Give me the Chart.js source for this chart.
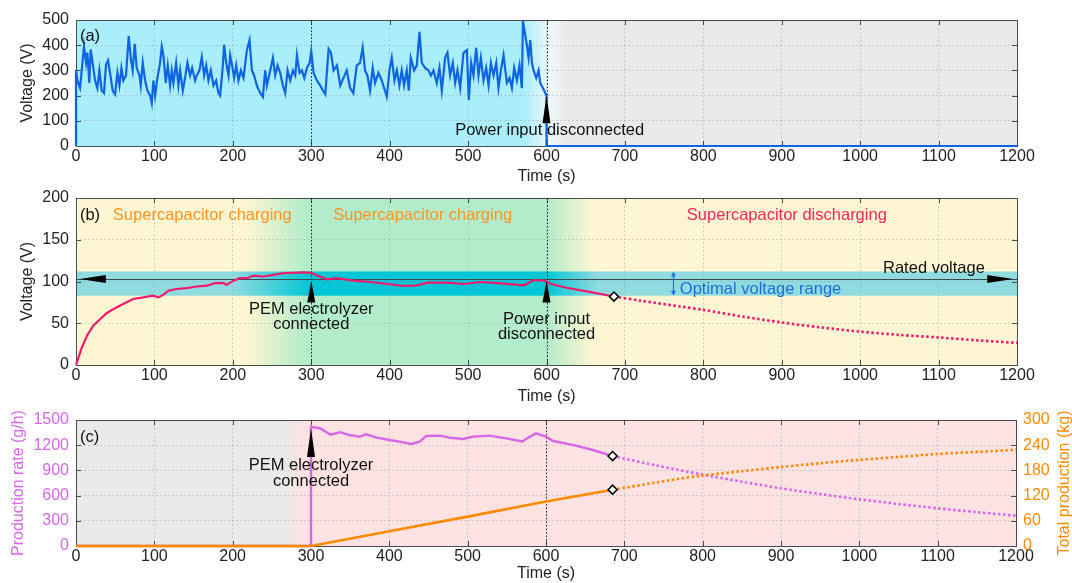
<!DOCTYPE html>
<html>
<head>
<meta charset="utf-8">
<script src="https://cdn.jsdelivr.net/npm/chart.js@4.4.1/dist/chart.umd.min.js"></script>
<style>
  body { margin: 0; background: #fff; width: 1072px; height: 583px; overflow: hidden; position: relative; }
  .panel { position: absolute; left: 0; width: 1072px; }
</style>
</head>
<body>
<div class="panel" style="top:0;height:186px"><canvas id="chartA"></canvas></div>
<div class="panel" style="top:176px;height:230px"><canvas id="chartB"></canvas></div>
<div class="panel" style="top:400px;height:183px"><canvas id="chartC"></canvas></div>
<script>
// ---- data ----
// (a) input voltage
const timeA = [0, 0, 1.7, 5.1, 7.2, 10.2, 12.8, 14.5, 17, 18.7, 22.1, 24.3, 27.2, 29.8, 32.8, 35.7, 38.3, 40.9, 43.4, 46.8,
  49.8, 52.8, 55.3, 57.9, 60.4, 63.8, 67.2, 70.2, 72.3, 74.9, 77.4, 80.9, 82.6, 85.1, 88.1, 91.1, 94.5, 96.6, 98.7,
  100.9, 103.8, 107.2, 109.4, 111.5, 114.5, 117, 120, 122.1, 124.3, 127.7, 130.6, 132.8, 136.2, 139.1, 142.1, 145.5,
  148.1, 151.9, 154, 157.4, 160.4, 163.4, 166, 168.9, 171.9, 175.3, 178.7, 181.7, 183.8, 186.8, 188.9, 191.5, 194.5,
  196.6, 199.1, 201.7, 204.3, 207.2, 210.2, 213.6, 217.9, 221.3, 224.3, 227.2, 230.6, 234.9, 238.3, 241.3, 243.4,
  247.7, 251.1, 254, 257, 260.4, 263.8, 266.8, 269.8, 273.2, 276.6, 279.6, 281.7, 285.1, 288.1, 291.1, 294.5, 297.9,
  300, 303, 307.2, 311.5, 314.9, 317.9, 322.1, 325.1, 328.5, 332.8, 337, 345.2, 349.5, 353.7, 358, 362.2, 365.6,
  368.6, 371.6, 375, 378.4, 381.4, 385.6, 389.9, 392.9, 396.3, 399.7, 402.7, 406.1, 409.1, 412.4, 415.4, 418.4, 421.8,
  424.4, 426.9, 431.2, 434.6, 438, 441, 445.2, 449.5, 452.5, 455.9, 460.1, 463.5, 466.5, 470.7, 473.7, 477.1, 480.5,
  483.5, 486.5, 489.9, 494.1, 498.4, 500.9, 503.9, 506.9, 510.3, 513.3, 516.3, 519.7, 523.1, 526.1, 529.1, 532.5,
  535.9, 538.8, 541.8, 545.2, 549.5, 552.9, 555.9, 558.8, 562.2, 565.6, 568.6, 569.9, 572.9, 575, 577.1, 579.3, 581.4,
  583.5, 586.9, 589.9, 592, 595.4, 598.4, 600, 600, 1200];
const voltA = [0, 303, 260, 230, 296, 396, 330, 370, 250, 383, 310, 260, 230, 300, 220, 210, 323, 340, 290, 220,
  205, 290, 240, 310, 260, 280, 436, 340, 300, 405, 310, 280, 240, 330, 260, 220, 200, 170, 260,
  200, 270, 330, 395, 360, 250, 320, 240, 300, 250, 330, 240, 300, 220, 270, 330, 280,
  310, 260, 280, 300, 353, 280, 320, 260, 300, 240, 260, 210, 200, 300, 402, 330, 280,
  360, 320, 270, 320, 260, 300, 270, 380, 420, 300, 280, 240, 210, 195, 300, 240,
  300, 350, 280, 320, 290, 240, 210, 300, 260, 300, 280, 360, 290, 300, 270, 310, 330,
  376, 290, 260, 240, 220, 205, 385, 370, 300, 320, 240, 300, 230, 210, 320, 330, 390,
  300, 280, 220, 310, 250, 290, 260, 230, 196, 300, 350, 260, 300, 240, 300, 240, 300,
  220, 350, 300, 320, 453, 330, 310, 300, 280, 300, 250, 310, 220, 350, 370, 280, 330,
  250, 300, 230, 370, 380, 183, 330, 280, 390, 280, 350, 260, 310, 240, 330, 280,
  330, 230, 300, 360, 250, 270, 230, 310, 260, 320, 230, 496, 440, 400, 350, 420, 330,
  300, 270, 300, 250, 230, 210, 200, 0, 0];

// (b) supercapacitor voltage, measured part and projection
const timeB = [0, 7, 14, 22, 31, 39, 48, 60, 73, 86, 98, 105, 111, 118, 128, 141, 154, 167, 177, 188, 192, 201, 209,
  218, 226, 239, 252, 265, 277, 290, 300, 305, 320, 333, 354, 376, 397, 418, 435, 448, 474, 495, 516, 542, 571,
  584, 597, 606, 627, 653, 686];
const voltB = [0, 20, 35, 47, 55, 62, 67, 73, 79, 81, 83, 81, 84, 89, 91, 92, 94, 95, 98, 98, 96, 101, 104,
  104, 107, 106, 108, 110, 110.5, 111, 110.5, 108, 102.6, 104, 101, 99.4, 97, 94.6, 95.4, 98.6, 98.6, 97, 99.4, 97.8, 95.4,
  101.8, 101, 97, 92.2, 87.8, 82];
const timeBDot = [686, 720, 771, 800, 850, 900, 950, 1000, 1050, 1100, 1150, 1200];
const voltBDot = [82, 77, 70, 66, 58, 51, 45, 40, 36, 33, 29.5, 26.5];
const ratedVoltage = 103;
const optimalRange = [83, 112];

// (c) hydrogen production rate (g/h) and total production (kg)
const timeRate = [0, 300, 300, 312, 325, 337, 349, 362, 370, 383, 400, 413, 428, 439, 447, 464, 477, 494, 507, 528,
  549, 570, 574, 587, 600, 609, 634, 660, 685];
const rate = [0, 0, 1420, 1400, 1325, 1355, 1321, 1300, 1329, 1294, 1262, 1242, 1214, 1242, 1310, 1314, 1290, 1274,
  1302, 1314, 1282, 1245, 1270, 1341, 1302, 1250, 1203, 1143, 1071];
const timeRateDot = [685, 740, 796, 850, 900, 950, 1000, 1050, 1100, 1150, 1200];
const rateDot = [1071, 960, 857, 765, 687, 618, 556, 500, 449, 403, 361];
const timeTotal = [0, 300, 400, 500, 600, 685];
const total = [0, 0, 35, 70, 106, 134];
const timeTotalDot = [685, 740, 796, 850, 900, 950, 1000, 1050, 1100, 1150, 1200];
const totalDot = [134, 151, 167, 178, 188, 197, 205, 212, 219, 224, 229];

const FONT = '"Liberation Sans", Arial, sans-serif';
Chart.defaults.font.family = FONT;
Chart.defaults.font.size = 16;
Chart.defaults.color = '#222';

const gridColor = 'rgba(150,150,150,0.38)';
const pts = (xs, ys) => xs.map((x, i) => ({ x: x, y: ys[i] }));
const plain = v => String(v);

function xAxis(height) {
  return {
    type: 'linear', min: 0, max: 1200,
    ticks: { stepSize: 100, padding: 1, maxRotation: 0, autoSkip: false, callback: plain },
    grid: { color: gridColor, drawTicks: false },
    border: { display: false, dash: [2, 2] },
    title: { display: true, text: 'Time (s)', padding: { top: 0, bottom: 0 } },
    afterFit: s => { s.height = height; }
  };
}

function yAxis(o) {
  return {
    position: o.pos || 'left', min: o.min, max: o.max,
    ticks: { stepSize: o.step, padding: 7, color: o.color || '#222', callback: plain },
    grid: { color: gridColor, drawTicks: false, drawOnChartArea: o.grid !== false },
    border: { display: false, dash: [2, 2] },
    title: { display: !!o.title, text: o.title, color: o.color || '#222', padding: { top: o.tpad || 0, bottom: 0 } },
    afterFit: s => { s.width = o.width; }
  };
}

// ---- drawing helpers (all positions go through the chart scales) ----
function hFill(chart, stops, yTop, yBot) {
  const { ctx, chartArea: a, scales: { x } } = chart;
  const top = yTop === undefined ? a.top : yTop;
  const bot = yBot === undefined ? a.bottom : yBot;
  const g = ctx.createLinearGradient(a.left, 0, a.right, 0);
  stops.forEach(s => g.addColorStop(Math.min(1, Math.max(0, (x.getPixelForValue(s[0]) - a.left) / a.width)), s[1]));
  ctx.save();
  ctx.fillStyle = g;
  ctx.fillRect(a.left, top, a.width, bot - top);
  ctx.restore();
}

function vDotted(chart, t) {
  const { ctx, chartArea: a, scales: { x } } = chart;
  const px = Math.round(x.getPixelForValue(t)) + 0.5;
  ctx.save();
  ctx.strokeStyle = '#222';
  ctx.lineWidth = 1;
  ctx.setLineDash([1.5, 2]);
  ctx.beginPath(); ctx.moveTo(px, a.top); ctx.lineTo(px, a.bottom); ctx.stroke();
  ctx.restore();
}

function note(chart, str, t, v, color, align, axis) {
  const { ctx, scales } = chart;
  ctx.save();
  ctx.font = '16.5px ' + FONT;
  ctx.fillStyle = color || '#111';
  ctx.textAlign = align || 'left';
  ctx.textBaseline = 'middle';
  ctx.fillText(str, scales.x.getPixelForValue(t), scales[axis || 'y'].getPixelForValue(v));
  ctx.restore();
}

function triUp(chart, t, tip, base, axis) {
  const { ctx, scales } = chart;
  const px = scales.x.getPixelForValue(t);
  const y = scales[axis || 'y'];
  ctx.save();
  ctx.fillStyle = '#000';
  ctx.beginPath();
  ctx.moveTo(px, y.getPixelForValue(tip));
  ctx.lineTo(px - 4, y.getPixelForValue(base));
  ctx.lineTo(px + 4, y.getPixelForValue(base));
  ctx.closePath(); ctx.fill();
  ctx.restore();
}

function triSide(chart, tipT, baseT, v) {
  const { ctx, scales } = chart;
  const py = scales.y.getPixelForValue(v);
  const x1 = scales.x.getPixelForValue(tipT), x2 = scales.x.getPixelForValue(baseT);
  ctx.save();
  ctx.fillStyle = '#000';
  ctx.beginPath();
  ctx.moveTo(x1, py); ctx.lineTo(x2, py - 4); ctx.lineTo(x2, py + 4);
  ctx.closePath(); ctx.fill();
  ctx.restore();
}

function vertLabel(chart, str, px, color) {
  const { ctx, chartArea: a } = chart;
  ctx.save();
  ctx.font = '16px ' + FONT;
  ctx.fillStyle = color;
  ctx.translate(px, (a.top + a.bottom) / 2);
  ctx.rotate(-Math.PI / 2);
  ctx.textAlign = 'center';
  ctx.textBaseline = 'middle';
  ctx.fillText(str, 0, 0);
  ctx.restore();
}

// box around the axes with inward ticks, MATLAB style
const framePlugin = {
  id: 'frame',
  beforeDatasetsDraw(chart) {
    const { ctx, chartArea: a, scales } = chart;
    ctx.save();
    ctx.strokeStyle = '#4a4a4a';
    ctx.lineWidth = 1;
    ctx.beginPath();
    scales.x.ticks.forEach(tk => {
      const px = Math.round(scales.x.getPixelForValue(tk.value)) + 0.5;
      ctx.moveTo(px, a.top); ctx.lineTo(px, a.top + 5);
      ctx.moveTo(px, a.bottom); ctx.lineTo(px, a.bottom - 5);
    });
    scales.y.ticks.forEach(tk => {
      const py = Math.round(scales.y.getPixelForValue(tk.value)) + 0.5;
      ctx.moveTo(a.left, py); ctx.lineTo(a.left + 5, py);
      if (!scales.y2) { ctx.moveTo(a.right, py); ctx.lineTo(a.right - 5, py); }
    });
    if (scales.y2) {
      scales.y2.ticks.forEach(tk => {
        const py = Math.round(scales.y2.getPixelForValue(tk.value)) + 0.5;
        ctx.moveTo(a.right, py); ctx.lineTo(a.right - 5, py);
      });
    }
    ctx.stroke();
    ctx.strokeRect(Math.round(a.left) + 0.5, Math.round(a.top) + 0.5, Math.round(a.width), Math.round(a.height));
    ctx.restore();
  }
};

const baseOptions = (padding, scales) => ({
  responsive: true,
  maintainAspectRatio: false,
  animation: false,
  events: [],
  layout: { padding: padding },
  plugins: { legend: { display: false }, tooltip: { enabled: false } },
  scales: scales
});

const diamond = (t, v, axis) => ({
  data: [{ x: t, y: v }], yAxisID: axis || 'y', showLine: false,
  pointStyle: 'rectRot', pointRadius: 4.5, pointBackgroundColor: '#fff',
  pointBorderColor: '#000', pointBorderWidth: 1.6, clip: false
});

// ---- (a) ----
const notesA = {
  id: 'notesA',
  beforeDraw(chart) {
    hFill(chart, [[0, '#aaedfb'], [572, '#aaedfb'], [604, '#eef9fb'], [628, '#e9e9e9'], [1200, '#e9e9e9']]);
  },
  beforeDatasetsDraw(chart) {
    vDotted(chart, 300);
    vDotted(chart, 600);
  },
  afterDatasetsDraw(chart) {
    triUp(chart, 600, 200, 90);
    note(chart, 'Power input disconnected', 604, 60, '#111', 'center');
    note(chart, '(a)', 5, 435, '#111');
  }
};

new Chart(document.getElementById('chartA'), {
  type: 'line',
  data: {
    datasets: [{
      data: pts(timeA, voltA), borderColor: '#0f64e2', borderWidth: 2.2,
      pointRadius: 0, tension: 0, clip: 4
    }]
  },
  options: baseOptions({ top: 20, right: 55, left: 0, bottom: 0 }, {
    x: xAxis(40),
    y: yAxis({ min: 0, max: 500, step: 100, title: 'Voltage (V)', tpad: 18.4, width: 76 })
  }),
  plugins: [framePlugin, notesA]
});

// ---- (b) ----
const notesB = {
  id: 'notesB',
  beforeDraw(chart) {
    const y = chart.scales.y;
    hFill(chart, [[0, '#fef6d2'], [215, '#fef6d2'], [295, '#b2ecca'], [600, '#b2ecca'], [660, '#fef6d2'], [1200, '#fef6d2']]);
    hFill(chart, [[0, '#8fdbe0'], [200, '#8fdbe0'], [300, '#00c6d6'], [600, '#00c6d6'], [665, '#8fdbe0'], [1200, '#8fdbe0']],
      y.getPixelForValue(optimalRange[1]), y.getPixelForValue(optimalRange[0]));
  },
  beforeDatasetsDraw(chart) {
    const { ctx, scales: { x, y } } = chart;
    vDotted(chart, 300);
    vDotted(chart, 600);
    const py = Math.round(y.getPixelForValue(ratedVoltage)) + 0.5;
    ctx.save();
    ctx.strokeStyle = '#3d4a4c';
    ctx.lineWidth = 1.2;
    ctx.beginPath(); ctx.moveTo(x.getPixelForValue(0), py); ctx.lineTo(x.getPixelForValue(1200), py); ctx.stroke();
    ctx.restore();
  },
  afterDatasetsDraw(chart) {
    const { ctx, scales: { x, y } } = chart;
    triSide(chart, 5, 38, ratedVoltage);
    triSide(chart, 1195, 1162, ratedVoltage);
    triUp(chart, 300, 101, 75);
    triUp(chart, 600, 101, 75);
    // optimal range double arrow
    const px = Math.round(x.getPixelForValue(761)) + 0.5;
    const yt = y.getPixelForValue(optimalRange[1]), yb = y.getPixelForValue(optimalRange[0]);
    ctx.save();
    ctx.strokeStyle = '#1f74dc'; ctx.fillStyle = '#1f74dc'; ctx.lineWidth = 1.2;
    ctx.beginPath(); ctx.moveTo(px, yt + 2); ctx.lineTo(px, yb - 2); ctx.stroke();
    ctx.beginPath(); ctx.moveTo(px, yt); ctx.lineTo(px - 2.5, yt + 5); ctx.lineTo(px + 2.5, yt + 5); ctx.closePath(); ctx.fill();
    ctx.beginPath(); ctx.moveTo(px, yb); ctx.lineTo(px - 2.5, yb - 5); ctx.lineTo(px + 2.5, yb - 5); ctx.closePath(); ctx.fill();
    ctx.restore();
    note(chart, '(b)', 5, 179);
    note(chart, 'Supercapacitor charging', 47, 179, '#ff9420');
    note(chart, 'Supercapacitor charging', 328, 179, '#ff9420');
    note(chart, 'Supercapacitor discharging', 779, 179, '#f2265c');
    note(chart, 'Rated voltage', 1159, 116, '#111', 'right');
    note(chart, 'Optimal voltage range', 770, 91, '#1f6fd8');
    note(chart, 'PEM electrolyzer', 300, 66, '#111', 'center');
    note(chart, 'connected', 300, 48, '#111', 'center');
    note(chart, 'Power input', 600, 54, '#111', 'center');
    note(chart, 'disconnected', 600, 37, '#111', 'center');
  }
};

new Chart(document.getElementById('chartB'), {
  type: 'line',
  data: {
    datasets: [
      diamond(686, 82),
      {
        data: pts(timeB, voltB), borderColor: '#f01a6c', borderWidth: 2.2,
        pointRadius: 0, tension: 0, clip: 4
      },
      {
        data: pts(timeBDot, voltBDot), borderColor: '#f01a6c', borderWidth: 2.6,
        borderDash: [2.5, 2.5], pointRadius: 0, tension: 0.3, clip: 4
      }
    ]
  },
  options: baseOptions({ top: 22, right: 55, left: 0, bottom: 0 }, {
    x: xAxis(41),
    y: yAxis({ min: 0, max: 200, step: 50, title: 'Voltage (V)', tpad: 18.4, width: 76 })
  }),
  plugins: [framePlugin, notesB]
});

// ---- (c) ----
const purple = '#d766e8';
const orange = '#ff8a00';
const notesC = {
  id: 'notesC',
  beforeDraw(chart) {
    hFill(chart, [[0, '#e9e9e9'], [262, '#e9e9e9'], [292, '#fde2e2'], [1200, '#fde2e2']]);
  },
  beforeDatasetsDraw(chart) {
    vDotted(chart, 600);
  },
  afterDatasetsDraw(chart) {
    triUp(chart, 300, 1400, 1060);
    note(chart, 'PEM electrolyzer', 300, 964, '#111', 'center');
    note(chart, 'connected', 300, 774, '#111', 'center');
    note(chart, '(c)', 5, 1298);
  },
  afterDraw(chart) {
    vertLabel(chart, 'Production rate (g/h)', 19, purple);
    vertLabel(chart, 'Total production (kg)', 1065, orange);
  }
};

new Chart(document.getElementById('chartC'), {
  type: 'line',
  data: {
    datasets: [
      diamond(685, 1071),
      diamond(685, 134, 'y2'),
      {
        data: pts(timeTotal, total), yAxisID: 'y2', borderColor: orange, borderWidth: 2.6,
        pointRadius: 0, tension: 0, clip: 4
      },
      {
        data: pts(timeTotalDot, totalDot), yAxisID: 'y2', borderColor: orange, borderWidth: 2.6,
        borderDash: [2.5, 2.5], pointRadius: 0, tension: 0.3, clip: 4
      },
      {
        data: pts(timeRate, rate), borderColor: purple, borderWidth: 2.4,
        pointRadius: 0, tension: 0, clip: 4
      },
      {
        data: pts(timeRateDot, rateDot), borderColor: purple, borderWidth: 2.6,
        borderDash: [2.5, 2.5], pointRadius: 0, tension: 0.3, clip: 4
      }
    ]
  },
  options: baseOptions({ top: 20, right: 0, left: 0, bottom: 0 }, {
    x: xAxis(37),
    y: yAxis({ min: 0, max: 1500, step: 300, color: purple, width: 76 }),
    y2: yAxis({ pos: 'right', min: 0, max: 300, step: 60, color: orange, width: 56, grid: false })
  }),
  plugins: [framePlugin, notesC]
});
</script>
</body>
</html>
